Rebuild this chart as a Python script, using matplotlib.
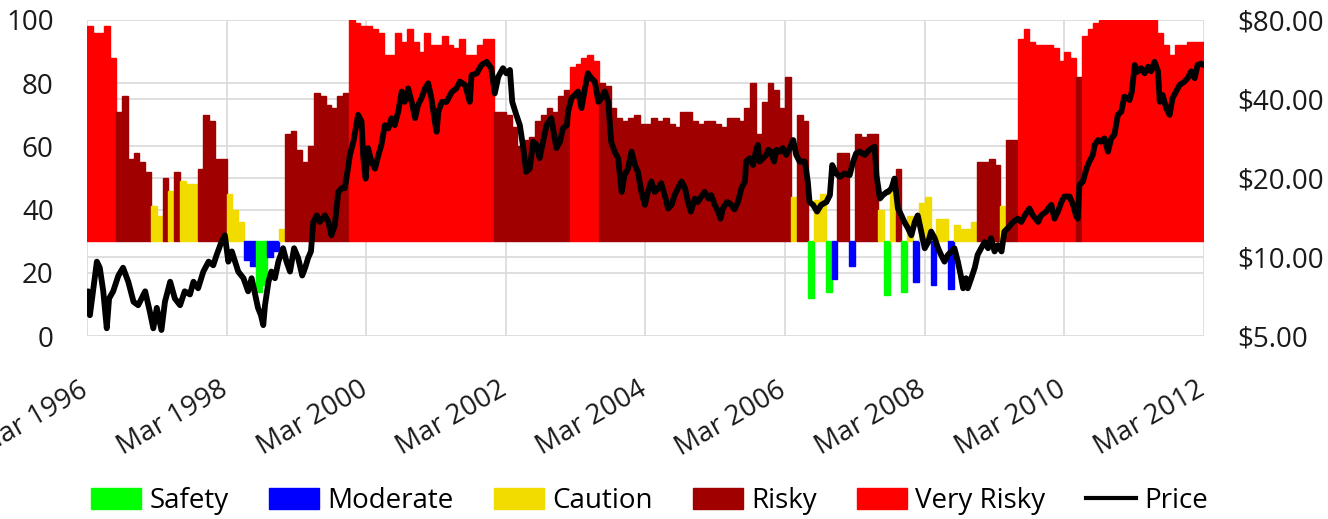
import numpy as np
import matplotlib.pyplot as plt
from matplotlib.patches import Patch
from matplotlib.lines import Line2D
from matplotlib.transforms import blended_transform_factory, ScaledTranslation

plt.rcParams['font.family'] = ['Open Sans', 'DejaVu Sans']

# monthly risk score (Mar 1996 .. Feb 2012), bars start at the 30 line
score = [98, 96, 96, 98, 88, 71, 76, 56, 58, 55, 52, 41,
         38, 50, 46, 52, 49, 48, 48, 53, 70, 68, 56, 56,
         45, 40, 36, 24, 22, 14, 16, 25, 27, 34, 64, 65,
         59, 55, 60, 77, 76, 73, 72, 76, 77, 100, 99, 98,
         98, 97, 96, 89, 89, 96, 93, 97, 93, 90, 96, 92,
         92, 95, 92, 91, 94, 89, 89, 92, 94, 94, 71, 71,
         70, 66, 60, 62, 63, 68, 70, 72, 71, 76, 78, 85,
         86, 88, 89, 87, 80, 79, 72, 69, 68, 69, 70, 67,
         67, 69, 68, 69, 67, 66, 71, 71, 68, 67, 68, 68,
         67, 66, 69, 69, 68, 72, 80, 64, 74, 80, 78, 72,
         82, 44, 70, 68, 12, 43, 45, 14, 18, 58, 58, 22,
         64, 63, 64, 64, 40, 13, 48, 53, 14, 38, 17, 42,
         44, 16, 37, 37, 15, 35, 34, 34, 36, 55, 55, 56,
         54, 41, 62, 62, 94, 97, 93, 92, 92, 92, 91, 87,
         90, 88, 82, 95, 97, 99, 100, 100, 100, 100, 100, 100,
         100, 100, 100, 100, 96, 92, 89, 92, 92, 93, 93, 93]

# S=Safety M=Moderate C=Caution R=Risky V=Very Risky
level = ("VVVVVRRRRRRC" "CRCRCCCRRRRR" "CCCMMSSMMCRR" "RRRRRRRRRVVV"
         "VVVVVVVVVVVV" "VVVVVVVVVVRR" "RRRRRRRRRRRV" "VVVVRRRRRRRR"
         "RRRRRRRRRRRR" "RRRRRRRRRRRR" "RCRRSCCSMRRM" "RRRRCSCRSCMC"
         "CMCCMCCCCRRR" "RCRRVVVVVVVV" "VVRVVVVVVVVV" "VVVVVVVVVVVV")

# price, months after Mar 1996
price_month = [0.2, 0.5, 1.1, 1.7, 2.2, 2.8, 3.4, 3.8, 4.5, 5.4, 6.2, 7.1, 8.0, 8.8,
               10.0, 10.8, 11.4, 12.0, 12.8, 13.4, 14.3, 15.1, 16.0, 16.8, 17.7, 18.3,
               19.1, 20.0, 20.9, 21.7, 22.3, 23.1, 23.7, 24.3, 24.9, 26.0, 26.9, 27.5,
               27.7, 28.3, 28.9, 29.4, 29.9, 30.3, 30.6, 31.2, 31.7, 32.3, 32.9, 33.7,
               34.3, 34.9, 35.6, 36.3, 37.0, 37.5, 38.0, 38.5, 38.9, 39.5, 40.0, 40.9,
               41.5, 42.0, 42.6, 43.2, 43.8, 44.3, 44.6, 45.2, 45.8, 46.6, 47.2, 47.5,
               47.9, 48.3, 48.9, 49.5, 50.1, 50.6, 51.2, 51.8, 52.35, 52.9, 53.5, 54.1,
               54.6, 55.0,
               55.2, 55.8, 56.4, 56.9, 57.5, 58.1, 58.65, 59.2, 59.8, 60.1, 60.4, 61.0,
               61.8, 62.7, 63.5, 64.1, 65.0, 65.8, 66.1, 67.0, 67.8, 68.7, 69.5, 70.1,
               70.7, 71.5, 72.1, 72.7, 73.1, 73.8, 74.4, 75.0, 75.5, 76.1, 76.7, 77.3,
               77.8, 78.4, 79.0, 79.8, 80.7, 81.3, 81.8, 82.5,
               82.7, 83.3, 83.85, 84.4, 85.0, 85.6, 86.1, 86.7, 87.3, 87.9, 88.4, 89.0,
               89.6, 90.1, 90.7, 91.3, 91.9, 92.4, 93.0, 93.6, 94.2, 94.7, 95.3, 95.9,
               96.4, 97.0, 97.6, 98.2, 98.7, 99.3, 99.9, 100.5, 101.0, 101.6, 102.2,
               102.8, 103.3, 103.8, 104.5, 105.0, 105.6, 106.2, 106.8, 107.3, 107.9,
               108.5, 108.9, 109.3, 110.0,
               110.5, 111.3, 111.9, 112.5, 113.1, 113.3, 113.9, 114.5, 115.1, 115.35,
               115.6, 116.2, 116.8, 117.1, 117.6, 118.1, 118.5, 119.1, 119.6, 120.2,
               120.8, 121.4, 121.9, 122.5, 123.4, 123.9, 124.2, 124.8, 125.5, 126.2,
               127.1, 127.7, 128.1, 128.8, 129.4, 130.2, 131.1, 131.7, 132.2, 132.8,
               133.7, 134.5, 135.4, 135.7, 136.3, 136.8, 137.5,
               137.7, 138.3, 138.8, 139.4, 140.0, 140.5, 141.1, 141.7, 142.3, 142.8,
               143.4, 144.0, 144.6, 145.1, 145.7, 146.3, 146.8, 147.4, 148.0, 148.6,
               149.1, 149.7, 150.2, 150.6, 151.1, 151.4, 152.0, 152.6, 153.1, 153.7,
               154.3, 154.9, 155.4, 156.0, 156.6, 157.2, 157.7, 158.3, 159.2, 160.0,
               160.6, 161.2, 162.0, 162.6, 163.5, 164.0, 164.9,
               165.2, 165.75, 166.3, 166.9, 167.5, 168.0, 168.9, 169.5, 170.0, 170.3,
               170.6, 171.2, 171.8, 172.3, 172.9, 173.2, 173.8, 174.3, 174.9, 175.5,
               176.05, 176.6, 177.2, 177.8, 178.3, 178.9, 179.2, 179.6, 180.1, 180.6,
               181.2, 181.8, 182.4, 182.9, 183.5, 184.1, 184.4, 184.9, 185.5, 186.1,
               186.6, 187.2, 187.8, 188.65, 189.2, 189.8, 190.4, 190.9, 191.5, 191.9]
price = [7.4, 6.0, 7.6, 9.6, 9.1, 7.4, 5.35, 6.95, 7.4, 8.5, 9.1, 8.05, 6.75, 6.55,
         7.4, 6.2, 5.35, 6.4, 5.27, 6.75, 8.05, 6.95, 6.55, 7.4, 7.2, 8.05,
         7.6, 8.8, 9.6, 9.3, 10.2, 11.4, 12.1, 9.6, 10.5, 8.8, 8.3, 7.6,
         7.4, 8.3, 7.2, 6.4, 6.0, 5.5, 6.55, 8.05, 8.8, 8.3, 9.6, 10.8,
         9.6, 8.8, 10.8, 9.9, 8.5, 9.1, 9.9, 10.5, 13.6, 14.4, 13.6, 14.4,
         13.6, 12.1, 13.2, 17.7, 18.3, 18.3, 19.9, 24.5, 27.5, 34.8, 32.8, 23.8,
         19.9, 26.0, 23.1, 21.7, 24.5, 26.7, 31.8, 30.9, 33.8, 31.8, 35.8, 42.7,
         39.0, 41.4,
         43.9, 39.0, 33.8, 37.9, 40.3, 43.9, 45.9, 40.3, 32.8, 30.0, 35.8, 39.0,
         39.0, 42.5, 43.9, 46.6, 45.2, 39.0, 49.3, 50.1, 53.9, 55.4, 52.4, 42.0,
         48.6, 52.4, 50.1, 51.6, 39.0, 34.8, 31.8, 26.0, 21.1, 21.7, 27.5, 26.7,
         23.8, 27.5, 31.8, 33.8, 26.0, 27.5, 30.9, 31.8,
         35.8, 40.3, 41.4, 42.7, 36.9, 43.9, 50.1, 48.0, 46.6, 39.0, 40.3, 42.7,
         39.0, 27.5, 25.2, 23.8, 17.7, 20.5, 21.7, 25.2, 22.4, 21.1, 17.7, 15.8,
         17.7, 19.4, 17.7, 18.3, 19.1, 17.2, 15.3, 15.8, 17.2, 18.3, 19.4,
         18.3, 16.2, 14.9, 16.7, 16.2, 17.0, 17.7, 16.7, 17.2, 15.8,
         14.9, 14.0, 15.3, 16.2,
         16.0, 15.2, 16.2, 18.3, 19.4, 23.1, 23.8, 22.4, 26.0, 26.7,
         23.1, 23.8, 24.5, 25.6, 25.2, 23.1, 25.6, 25.2, 26.0, 24.5,
         26.0, 27.9, 24.5, 23.1, 23.1, 19.4, 16.2, 15.8, 14.9, 15.8,
         16.2, 17.2, 22.4, 20.8, 20.2, 20.8, 20.5, 23.1, 24.8, 25.2,
         24.5, 25.6, 26.3, 20.5, 16.7, 17.2, 17.7,
         17.7, 18.3, 19.9, 15.3, 14.4, 13.6, 12.9, 12.1, 13.6, 14.4,
         12.5, 10.8, 11.4, 12.5, 11.8, 10.8, 10.2, 9.6, 10.2, 10.5,
         10.8, 9.6, 8.5, 7.6, 8.3, 7.6, 8.3, 9.1, 10.2, 10.8,
         11.4, 10.8, 11.8, 10.5, 11.1, 10.5, 12.5, 12.9, 13.6, 14.0,
         13.6, 14.4, 15.3, 14.4, 13.6, 14.4, 14.9,
         15.3, 15.8, 14.0, 14.9, 16.2, 17.0, 17.0, 15.8, 14.4, 14.0,
         18.8, 19.4, 21.7, 23.1, 24.5, 26.7, 27.9, 27.5, 28.3, 25.2,
         28.3, 29.2, 34.8, 35.8, 40.8, 40.3, 39.6, 42.7, 53.9, 50.8,
         52.4, 50.1, 53.1, 51.0, 55.4, 51.0, 39.0, 41.4, 36.9, 34.8,
         40.3, 42.7, 45.2, 46.6, 48.0, 51.0, 48.0, 53.9, 54.6, 53.9]

tick_labels = ['Mar 1996', 'Mar 1998', 'Mar 2000', 'Mar 2002', 'Mar 2004',
               'Mar 2006', 'Mar 2008', 'Mar 2010', 'Mar 2012']
price_ticks = [5, 10, 20, 40, 80]

names = {'S': 'Safety', 'M': 'Moderate', 'C': 'Caution', 'R': 'Risky', 'V': 'Very Risky'}
colors = {'S': '#00ff00', 'M': '#0000ff', 'C': '#f2dc00', 'R': '#a00000', 'V': '#ff0000'}
grid_c = '#d9d9d9'
text_c = '#1a1a1a'
base = 30

fig = plt.figure(figsize=(13.28, 5.19), dpi=100)
ax = fig.add_axes([0.0655, 0.3526, 0.8411, 0.6089])
ax2 = ax.twinx()

months = np.arange(len(score))
bar_cols = [colors[c] for c in level]
ax.bar(months, np.array(score) - base, bottom=base, width=1.0, align='edge',
       color=bar_cols, edgecolor=bar_cols, linewidth=1.0, zorder=2)

ax.set_xlim(0, 192)
ax.set_ylim(0, 100)
ax.set_yticks([0, 20, 40, 60, 80, 100])
xt = np.arange(0, 193, 24)
ax.set_xticks(xt)
ax.set_xticklabels([])
ax.grid(True, color=grid_c, linewidth=1.2, zorder=0)
ax.set_axisbelow(True)

# rotated date labels, right end just under each gridline
lab_tr = blended_transform_factory(ax.transData, ax.transAxes) + \
    ScaledTranslation(-0.08, -0.40, fig.dpi_scale_trans)
for x, t in zip(xt, tick_labels):
    ax.text(x, 0, t, transform=lab_tr, rotation=30, rotation_mode='anchor',
            ha='right', va='top', fontsize=20, color=text_c, clip_on=False)

# price gridlines drawn behind the bars
tr = blended_transform_factory(ax.transAxes, ax2.transData)
for p in price_ticks[1:-1]:
    ax.plot([0, 1], [p, p], transform=tr, color=grid_c, linewidth=1.2, zorder=0.5)

ax2.plot(price_month, price, color='black', linewidth=4.2, solid_joinstyle='round',
         solid_capstyle='round', zorder=3)
ax2.set_yscale('log')
ax2.set_ylim(5, 80)
ax2.set_yticks(price_ticks)
ax2.set_yticklabels(['$%.2f' % p for p in price_ticks])
ax2.minorticks_off()

for a in (ax, ax2):
    for s in a.spines.values():
        s.set_visible(False)
    a.tick_params(length=0, labelsize=20, colors=text_c)
ax.tick_params(axis='y', pad=24)
ax2.tick_params(axis='y', pad=24)

handles = [Patch(color=colors[k], label=names[k]) for k in 'SMCRV']
handles.append(Line2D([], [], color='black', linewidth=3, label='Price'))
fig.legend(handles=handles, loc='center', bbox_to_anchor=(0.489, 0.035), ncol=6,
           frameon=False, fontsize=20, handlelength=1.8, handleheight=0.8,
           handletextpad=0.3, columnspacing=1.45)

fig.savefig('out.png', dpi=100)
